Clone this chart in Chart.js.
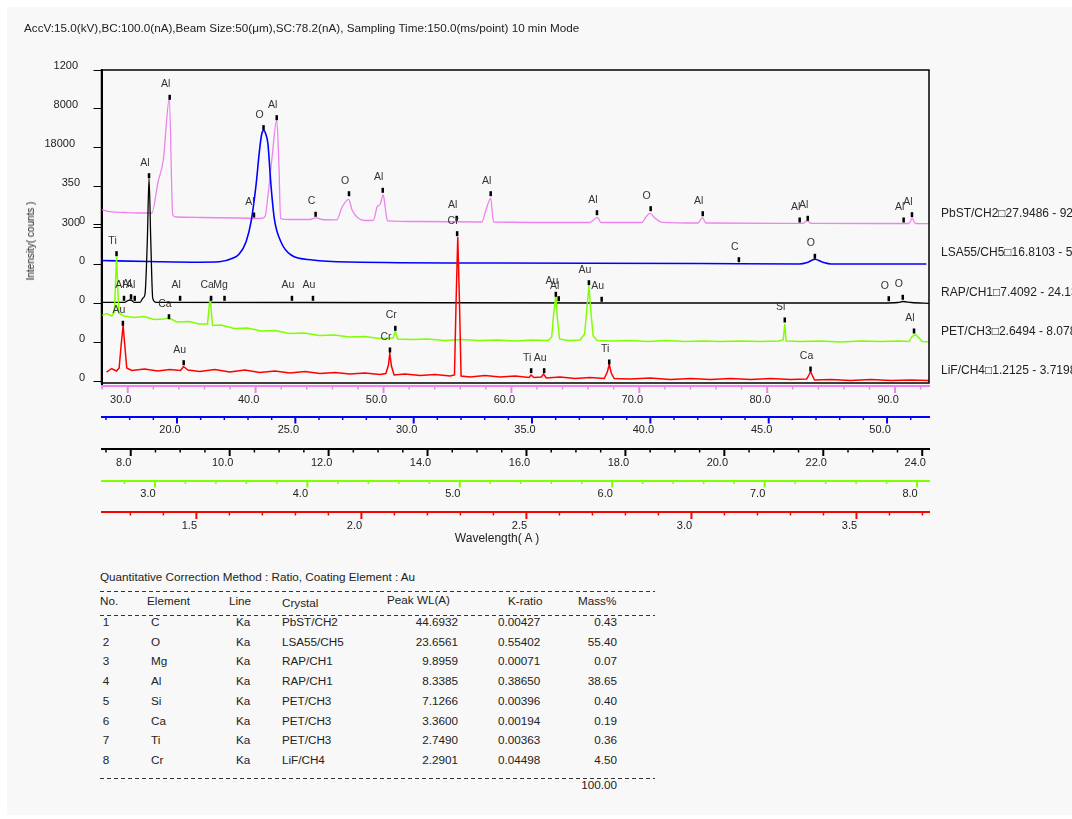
<!DOCTYPE html>
<html>
<head>
<meta charset="utf-8">
<title>WDS qualitative spectrum</title>
<script src="https://cdn.jsdelivr.net/npm/chart.js@4.4.1/dist/chart.umd.min.js"></script>
<style>
  html, body { margin:0; padding:0; width:1072px; height:819px; overflow:hidden; background:#ffffff; }
  body { position:relative; font-family:'Liberation Sans', Arial, Helvetica, sans-serif; color:#222; }
  #panel { position:absolute; left:7px; top:7px; width:1065px; height:808px; background:#f8f8f8; }
  #chart { position:absolute; left:0; top:0; }
  .txt { position:absolute; white-space:nowrap; line-height:1; }
  #hdr { left:24px; top:22px; font-size:11.7px; }
  #ytitle { left:31px; top:241px; font-size:10px; transform:translate(-50%,-50%) rotate(-90deg); }
  #xtitle { left:497px; top:538px; font-size:12px; transform:translate(-50%,-50%); }
  .dash { position:absolute; left:100px; width:555px; height:1px;
          background:repeating-linear-gradient(to right,#333 0 4px,transparent 4px 7px); }
  .cell { position:absolute; white-space:nowrap; line-height:1; font-size:11.7px; color:#222; }
</style>
</head>
<body>
<div id="panel"></div>
<canvas id="chart" width="1072" height="560" style="width:1072px;height:560px"></canvas>
<div id="hdr" class="txt">AccV:15.0(kV),BC:100.0(nA),Beam Size:50(μm),SC:78.2(nA), Sampling Time:150.0(ms/point) 10 min Mode</div>
<div id="ytitle" class="txt">Intensity( counts )</div>
<div id="xtitle" class="txt">Wavelength( A )</div>
<div id="table"></div>
<script>
// ---------------- data ----------------
// y values are in the stacked display units of the shared intensity axis
const pinkX = [27.95, 28.62, 29.79, 30.96, 31.88, 32.37, 32.78, 33.25, 33.52, 33.78, 35.65, 38.78, 40.34, 40.73, 40.97, 41.28, 41.65, 41.83, 41.95, 42.69, 44.25, 44.72, 45.19, 46.34, 46.76, 47.28, 47.54, 48.01, 48.55, 49.20, 49.51, 49.73, 49.98, 50.16, 50.31, 52.85, 57.68, 58.01, 58.38, 58.60, 66.14, 66.72, 67.00, 70.21, 70.52, 70.83, 71.22, 71.77, 74.58, 74.93, 75.21, 82.80, 83.13, 83.42, 91.08, 91.34, 91.59, 92.65];
const pinkY = [4.423, 4.367, 4.346, 4.333, 4.333, 5.128, 5.692, 7.256, 4.282, 4.231, 4.218, 4.205, 4.192, 4.238, 4.795, 5.744, 6.718, 5.487, 4.192, 4.167, 4.167, 4.21, 4.167, 4.159, 4.487, 4.685, 4.41, 4.205, 4.141, 4.146, 4.495, 4.551, 4.795, 4.41, 4.133, 4.115, 4.103, 4.41, 4.71, 4.103, 4.09, 4.223, 4.09, 4.09, 4.231, 4.326, 4.205, 4.095, 4.077, 4.213, 4.077, 4.069, 4.133, 4.069, 4.064, 4.197, 4.064, 4.059];

const blueX = [16.78, 18.83, 20.94, 21.79, 22.35, 22.63, 22.92, 23.13, 23.34, 23.48, 23.58, 23.67, 23.75, 23.84, 23.97, 24.11, 24.39, 24.82, 25.73, 27.28, 33.62, 42.07, 46.29, 46.63, 46.95, 47.26, 47.64, 51.66];
const blueY = [3.115, 3.090, 3.072, 3.082, 3.172, 3.282, 3.597, 4.110, 5.051, 5.905, 6.359, 6.449, 6.359, 6.115, 5.051, 4.197, 3.597, 3.256, 3.128, 3.077, 3.051, 3.038, 3.026, 3.064, 3.146, 3.077, 3.026, 3.026];

const blackX = [7.409, 7.885, 7.945, 8.006, 8.067, 8.188, 8.249, 8.289, 8.336, 8.370, 8.405, 8.445, 8.512, 11.427, 17.50, 23.17, 23.51, 23.61, 23.78, 24.16];
const blackY = [2.044, 2.044, 2.09, 2.103, 2.044, 2.044, 2.154, 2.256, 3.641, 5.218, 3.641, 2.146, 2.044, 2.038, 2.026, 2.026, 2.038, 2.064, 2.038, 2.013];

const greenX = [2.641, 2.684, 2.717, 2.734, 2.748, 2.763, 2.796, 2.862, 2.928, 2.993, 3.059, 3.092, 3.145, 3.224, 3.289, 3.345, 3.362, 3.378, 3.434, 3.520, 3.605, 3.697, 3.789, 3.882, 3.980, 4.079, 4.178, 4.276, 4.375, 4.474, 4.563, 4.577, 4.592, 4.684, 4.789, 4.901, 5.013, 5.132, 5.250, 5.362, 5.474, 5.579, 5.603, 5.615, 5.630, 5.641, 5.655, 5.711, 5.789, 5.819, 5.836, 5.847, 5.859, 5.875, 5.901, 6.000, 6.118, 6.237, 6.355, 6.474, 6.592, 6.711, 6.842, 6.974, 7.092, 7.122, 7.132, 7.141, 7.237, 7.368, 7.500, 7.632, 7.763, 7.882, 7.947, 7.967, 7.989, 8.013, 8.033, 8.086];
const greenY = [1.692, 1.756, 1.692, 1.795, 3.218, 1.769, 1.692, 1.654, 1.679, 1.603, 1.615, 1.641, 1.538, 1.551, 1.487, 1.487, 2.192, 1.449, 1.462, 1.372, 1.385, 1.308, 1.321, 1.244, 1.256, 1.192, 1.205, 1.154, 1.167, 1.115, 1.128, 1.295, 1.103, 1.090, 1.103, 1.064, 1.090, 1.064, 1.077, 1.051, 1.077, 1.064, 1.154, 1.718, 2.231, 1.590, 1.103, 1.064, 1.077, 1.231, 1.974, 2.462, 1.846, 1.179, 1.064, 1.051, 1.064, 1.038, 1.064, 1.038, 1.051, 1.038, 1.051, 1.038, 1.051, 1.077, 1.487, 1.051, 1.038, 1.051, 1.026, 1.051, 1.038, 1.051, 1.038, 1.167, 1.218, 1.128, 1.038, 1.033];

const redX = [1.2279, 1.243, 1.258, 1.266, 1.272, 1.278, 1.283, 1.289, 1.304, 1.343, 1.383, 1.419, 1.452, 1.461, 1.474, 1.510, 1.556, 1.601, 1.647, 1.692, 1.738, 1.783, 1.829, 1.874, 1.920, 1.965, 2.011, 2.056, 2.074, 2.082, 2.086, 2.091, 2.099, 2.132, 2.178, 2.223, 2.269, 2.282, 2.287, 2.292, 2.297, 2.302, 2.329, 2.375, 2.420, 2.466, 2.508, 2.514, 2.523, 2.545, 2.552, 2.560, 2.602, 2.648, 2.693, 2.736, 2.745, 2.751, 2.757, 2.766, 2.815, 2.875, 2.936, 2.997, 3.057, 3.118, 3.179, 3.239, 3.300, 3.349, 3.356, 3.361, 3.367, 3.373, 3.422, 3.482, 3.543, 3.604, 3.664, 3.722];
const redY = [0.256, 0.346, 0.282, 0.359, 0.949, 1.449, 0.949, 0.359, 0.295, 0.333, 0.282, 0.321, 0.295, 0.397, 0.308, 0.269, 0.321, 0.256, 0.308, 0.244, 0.282, 0.231, 0.269, 0.218, 0.244, 0.205, 0.231, 0.192, 0.218, 0.436, 0.731, 0.410, 0.179, 0.205, 0.167, 0.192, 0.154, 0.179, 2.103, 3.718, 2.103, 0.154, 0.128, 0.167, 0.128, 0.154, 0.115, 0.179, 0.115, 0.128, 0.205, 0.103, 0.128, 0.090, 0.115, 0.090, 0.256, 0.449, 0.231, 0.090, 0.077, 0.103, 0.064, 0.090, 0.064, 0.090, 0.064, 0.090, 0.064, 0.077, 0.179, 0.269, 0.154, 0.051, 0.064, 0.038, 0.064, 0.038, 0.051, 0.038];

// peak identification marks
const pinkPeakX = [33.28, 39.87, 41.65, 44.69, 47.30, 49.94, 55.72, 58.38, 66.69, 70.89, 74.96, 82.54, 83.17, 90.67, 91.32];
const pinkPeakY = [7.300, 4.282, 6.777, 4.300, 4.828, 4.915, 4.197, 4.828, 4.341, 4.444, 4.315, 4.154, 4.197, 4.154, 4.290];
const pinkPeakText = ['Al', 'Al', 'Al', 'C', 'O', 'Al', 'Al', 'Al', 'Al', 'O', 'Al', 'Al', 'Al', 'Al', 'Al'];
const bluePeakX = [23.656, 43.74, 46.95];
const bluePeakY = [6.521, 3.136, 3.223];
const bluePeakText = ['O', 'C', 'O'];
const blackPeakX = [8.370, 7.864, 8.006, 8.081, 8.998, 9.625, 9.896, 11.259, 11.684, 17.520, 23.324, 23.607];
const blackPeakY = [5.290, 2.146, 2.187, 2.146, 2.146, 2.146, 2.146, 2.146, 2.146, 2.121, 2.136, 2.172];
const blackPeakText = ['Al', 'Al', 'Al', 'Al', 'Al', 'Ca', 'Mg', 'Au', 'Au', 'Au', 'O', 'O'];
const greenPeakX = [2.748, 3.092, 4.577, 5.630, 5.649, 5.847, 7.132, 7.980];
const greenPeakY = [3.290, 1.674, 1.377, 2.249, 2.136, 2.546, 1.590, 1.308];
const greenPeakText = ['Ti', 'Ca', 'Cr', 'Au', 'Al', 'Au', 'Si', 'Al'];
const redPeakX = [1.2773, 1.4615, 2.0865, 2.2901, 2.5143, 2.5537, 2.7509, 3.3608];
const redPeakY = [1.505, 0.495, 0.821, 3.803, 0.290, 0.290, 0.513, 0.333];
const redPeakText = ['Au', 'Au', 'Cr', 'Cr', 'Ti', 'Au', 'Ti', 'Ca'];

// axes: tick values and labels
const yTickValues = [0, 1, 2, 3, 3.97, 4.03, 5, 6, 7, 8];
const yTickLabels = ['0', '0', '0', '0', '300', '0', '350', '18000', '8000', '1200'];
const pinkTicks = [30, 40, 50, 60, 70, 80, 90];
const blueTicks = [20, 25, 30, 35, 40, 45, 50];
const blackTicks = [8, 10, 12, 14, 16, 18, 20, 22, 24];
const greenTicks = [3, 4, 5, 6, 7, 8];
const redTicks = [1.5, 2.0, 2.5, 3.0, 3.5];
const channelLabels = ['PbST/CH2\u25A127.9486 - 92.6519', 'LSA55/CH5\u25A116.8103 - 51.7725', 'RAP/CH1\u25A17.4092 - 24.1372', 'PET/CH3\u25A12.6494 - 8.0782', 'LiF/CH4\u25A11.2125 - 3.7198'];
const channelBase = [4, 3, 2, 1, 0];

// quantitative table
const tblNo = ['1', '2', '3', '4', '5', '6', '7', '8'];
const tblElement = ['C', 'O', 'Mg', 'Al', 'Si', 'Ca', 'Ti', 'Cr'];
const tblLine = ['Ka', 'Ka', 'Ka', 'Ka', 'Ka', 'Ka', 'Ka', 'Ka'];
const tblCrystal = ['PbST/CH2', 'LSA55/CH5', 'RAP/CH1', 'RAP/CH1', 'PET/CH3', 'PET/CH3', 'PET/CH3', 'LiF/CH4'];
const tblPeakWL = ['44.6932', '23.6561', '9.8959', '8.3385', '7.1266', '3.3600', '2.7490', '2.2901'];
const tblKratio = ['0.00427', '0.55402', '0.00071', '0.38650', '0.00396', '0.00194', '0.00363', '0.04498'];
const tblMass = ['0.43', '55.40', '0.07', '38.65', '0.40', '0.19', '0.36', '4.50'];
const tblTotal = '100.00';

// ---------------- chart ----------------
const FONT = "'Liberation Sans', Arial, Helvetica, sans-serif";
Chart.defaults.font.family = FONT;

// right edge (px) of each y tick label, as laid out in the original
const yLabelRight = [85, 85, 85, 85, 80, 85, 80, 75, 78, 78];

const axisDefs = [
  { id: 'xPink',  color: '#ee82ee', min: 27.9486, max: 92.6519, majors: pinkTicks,  minorStep: 2,   height: 30.5, weight: 0 },
  { id: 'xBlue',  color: '#0000ff', min: 16.8103, max: 51.7725, majors: blueTicks,  minorStep: 1,   height: 32.5, weight: 1 },
  { id: 'xBlack', color: '#000000', min: 7.4092,  max: 24.1372, majors: blackTicks, minorStep: 0.5, height: 31.5, weight: 2 },
  { id: 'xGreen', color: '#80ff00', min: 2.6494,  max: 8.0782,  majors: greenTicks, minorStep: 0.2, height: 31.5, weight: 3 },
  { id: 'xRed',   color: '#ff0000', min: 1.2125,  max: 3.7198,  majors: redTicks,   minorStep: 0.1, height: 26,   weight: 4 }
];

const scales = {
  y: {
    type: 'linear', position: 'left', min: -0.1026, max: 8,
    afterBuildTicks: s => { s.ticks = yTickValues.map(v => ({ value: v })); },
    afterFit: s => { s.width = 50; },
    grid: { drawOnChartArea: false, drawTicks: true, tickLength: 8, color: '#000', lineWidth: 1 },
    border: { display: true, color: '#000', width: 2 },
    ticks: { display: false, autoSkip: false, callback: (v, i) => yTickLabels[i] }
  }
};
axisDefs.forEach(d => {
  scales[d.id] = {
    type: 'linear', position: 'bottom', weight: d.weight, min: d.min, max: d.max,
    afterBuildTicks: s => { s.ticks = d.majors.map(v => ({ value: v })); },
    afterFit: s => { s.height = d.height; s.paddingLeft = 0; s.paddingRight = 0; },
    grid: { display: false, drawTicks: true, tickLength: 6 },
    border: { display: true, color: d.color, width: 2 },
    ticks: { color: '#222', font: { size: 11 }, padding: 1, labelOffset: -7, maxRotation: 0, minRotation: 0,
             autoSkip: false, callback: v => Number(v).toFixed(1) }
  };
});

function series(xs, ys, color, axis, order, width, smooth) {
  const ds = {
    data: xs.map((x, i) => ({ x: x, y: ys[i] })),
    xAxisID: axis, yAxisID: 'y', borderColor: color, backgroundColor: color,
    borderWidth: width, pointRadius: 0, fill: false, order: order, tension: 0
  };
  if (smooth) ds.cubicInterpolationMode = 'monotone';
  return ds;
}

const peakSets = [
  { axis: 'xPink', x: pinkPeakX, y: pinkPeakY, t: pinkPeakText },
  { axis: 'xBlue', x: bluePeakX, y: bluePeakY, t: bluePeakText },
  { axis: 'xBlack', x: blackPeakX, y: blackPeakY, t: blackPeakText },
  { axis: 'xGreen', x: greenPeakX, y: greenPeakY, t: greenPeakText },
  { axis: 'xRed', x: redPeakX, y: redPeakY, t: redPeakText }
];

const decorPlugin = {
  id: 'decor',
  afterDatasetsDraw(chart) {
    const ctx = chart.ctx, ys = chart.scales.y;
    ctx.save();
    ctx.font = '10.5px ' + FONT;
    ctx.textAlign = 'center';
    ctx.textBaseline = 'middle';
    peakSets.forEach(s => {
      const xs = chart.scales[s.axis];
      s.x.forEach((lx, i) => {
        const px = xs.getPixelForValue(lx), py = ys.getPixelForValue(s.y[i]);
        ctx.fillStyle = '#000';
        ctx.fillRect(px - 1.25, py - 2.5, 2.5, 5);
        ctx.fillStyle = '#333';
        ctx.fillText(s.t[i], px - 4, py - 13);
      });
    });
    ctx.restore();
  },
  afterDraw(chart) {
    const ctx = chart.ctx, a = chart.chartArea, ys = chart.scales.y;
    ctx.save();
    // plot frame
    const fb = ys.getPixelForValue(0) + 1;
    ctx.strokeStyle = '#000';
    ctx.lineWidth = 1.5;
    ctx.strokeRect(a.left, a.top, a.right - a.left, fb - a.top);
    // major / minor tick marks on the wavelength axes
    axisDefs.forEach(d => {
      const sc = chart.scales[d.id];
      ctx.strokeStyle = d.color;
      const n0 = Math.ceil(d.min / d.minorStep - 1e-6), n1 = Math.floor(d.max / d.minorStep + 1e-6);
      for (let n = n0; n <= n1; n++) {
        const v = n * d.minorStep;
        const major = d.majors.some(m => Math.abs(m - v) < d.minorStep / 10);
        const px = sc.getPixelForValue(v);
        ctx.lineWidth = major ? 2 : 1.5;
        ctx.beginPath();
        ctx.moveTo(px, sc.top);
        ctx.lineTo(px, sc.top + (major ? 7 : 3.5));
        ctx.stroke();
      }
    });
    // intensity tick labels
    ctx.fillStyle = '#222';
    ctx.font = '11px ' + FONT;
    ctx.textAlign = 'right';
    ctx.textBaseline = 'middle';
    yTickValues.forEach((v, i) => {
      ctx.fillText(yTickLabels[i], yLabelRight[i], ys.getPixelForValue(v) - 4);
    });
    // channel labels on the right
    ctx.font = '12px ' + FONT;
    ctx.textAlign = 'left';
    channelLabels.forEach((t, i) => {
      ctx.fillText(t, a.right + 12, ys.getPixelForValue(channelBase[i]) - 12 + (i > 1 ? 1 : 0));
    });
    ctx.restore();
  }
};

new Chart(document.getElementById('chart'), {
  type: 'line',
  data: {
    datasets: [
      series(pinkX, pinkY, '#ee82ee', 'xPink', 4, 1.3, true),
      series(blueX, blueY, '#0000ff', 'xBlue', 3, 1.6, true),
      series(blackX, blackY, '#000000', 'xBlack', 2, 1.3, true),
      series(greenX, greenY, '#80ff00', 'xGreen', 1, 1.5, false),
      series(redX, redY, '#ff0000', 'xRed', 0, 1.5, false)
    ]
  },
  options: {
    responsive: false, animation: false, devicePixelRatio: 1, events: [],
    layout: { padding: { left: 51.5, right: 143, top: 70, bottom: 22 } },
    plugins: { legend: { display: false }, tooltip: { enabled: false }, title: { display: false } },
    scales: scales
  },
  plugins: [decorPlugin]
});

// ---------------- table ----------------
(function buildTable() {
  const host = document.getElementById('table');
  function cell(text, x, yc, align) {
    const d = document.createElement('div');
    d.className = 'cell';
    d.textContent = text;
    d.style.top = (yc - 6) + 'px';
    if (align === 'right') { d.style.right = (1072 - x) + 'px'; d.style.textAlign = 'right'; }
    else if (align === 'center') { d.style.left = (x - 20) + 'px'; d.style.width = '40px'; d.style.textAlign = 'center'; }
    else { d.style.left = x + 'px'; }
    host.appendChild(d);
  }
  function dash(y) {
    const d = document.createElement('div');
    d.className = 'dash';
    d.style.top = y + 'px';
    host.appendChild(d);
  }
  cell('Quantitative Correction Method : Ratio, Coating Element : Au', 100, 577, 'left');
  dash(591);
  cell('No.', 100, 601, 'left');
  cell('Element', 147, 601, 'left');
  cell('Line', 229, 601, 'left');
  cell('Crystal', 282, 603, 'left');
  cell('Peak WL(A)', 387, 600, 'left');
  cell('K-ratio', 508, 601, 'left');
  cell('Mass%', 578, 601, 'left');
  dash(615);
  tblNo.forEach((n, i) => {
    const yc = 622 + i * 19.7;
    cell(n, 106, yc, 'center');
    cell(tblElement[i], 151, yc, 'left');
    cell(tblLine[i], 236, yc, 'left');
    cell(tblCrystal[i], 282, yc, 'left');
    cell(tblPeakWL[i], 458, yc, 'right');
    cell(tblKratio[i], 498, yc, 'left');
    cell(tblMass[i], 617, yc, 'right');
  });
  dash(778);
  cell(tblTotal, 617, 785, 'right');
})();
</script>
</body>
</html>
